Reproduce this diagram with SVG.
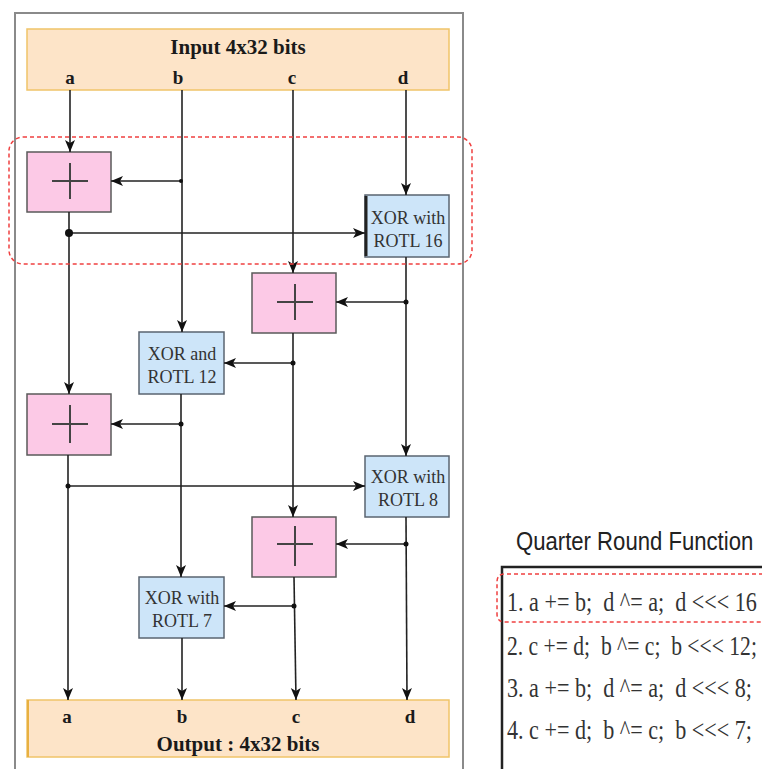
<svg xmlns="http://www.w3.org/2000/svg" width="762" height="769" viewBox="0 0 762 769">
<style>
.frame{fill:#fff;stroke:#8a8a8a;stroke-width:2}
.io{fill:#fde4c8;stroke:#f0c468;stroke-width:1.5}
.add{fill:#fcc9e6;stroke:#5a5a5a;stroke-width:1.5}
.xor{fill:#cde5f9;stroke:#5a6470;stroke-width:1.5}
.plus{stroke:#444;stroke-width:2;fill:none}
.ln{stroke:#222;stroke-width:1.6;fill:none}
.dot{fill:#111}
.hd{font-family:"Liberation Serif",serif;font-weight:bold;font-size:21px;fill:#1a1a1a;text-anchor:middle}
.ab{font-family:"Liberation Serif",serif;font-weight:bold;font-size:19px;fill:#1a1a1a;text-anchor:middle}
.lb{font-family:"Liberation Serif",serif;font-size:18px;fill:#333;text-anchor:middle}
.qt{font-family:"Liberation Sans",sans-serif;font-size:25px;fill:#222}
.row{font-family:"Liberation Serif",serif;font-size:27px;fill:#333;white-space:pre}
.red{fill:none;stroke:#f04040;stroke-width:1.5;stroke-dasharray:4 3}
</style>
<defs>
<marker id="ah" markerUnits="userSpaceOnUse" markerWidth="12" markerHeight="12" viewBox="0 0 12 12" refX="12" refY="6" orient="auto">
<path d="M0,1 L12,6 L0,11 L3,6 Z" fill="#111"/>
</marker>
</defs>
<rect x="0" y="0" width="762" height="769" fill="#fff"/>
<rect class="frame" x="15" y="13" width="448" height="770"/>

<g id="input">
<rect class="io" x="27" y="29" width="422" height="61"/>
<text class="hd" x="238" y="54">Input 4x32 bits</text>
<text class="ab" x="70" y="84">a</text>
<text class="ab" x="178" y="84">b</text>
<text class="ab" x="292" y="84">c</text>
<text class="ab" x="403" y="84">d</text>
</g>

<g id="add1">
<rect class="add" x="27" y="152" width="84" height="60"/>
<path class="plus" d="M52,181 H88 M70,163 V199"/>
</g>
<g id="xor16">
<rect class="xor" x="365" y="195" width="84" height="62"/>
<line x1="366" y1="196" x2="366" y2="256" stroke="#222" stroke-width="3"/>
<text class="lb" x="408" y="224">XOR with</text>
<text class="lb" x="408" y="247">ROTL 16</text>
</g>
<g id="add2">
<rect class="add" x="252" y="273" width="84" height="60"/>
<path class="plus" d="M277,302 H313 M295,284 V320"/>
</g>
<g id="xor12">
<rect class="xor" x="139" y="332" width="85" height="62"/>
<text class="lb" x="182" y="360">XOR and</text>
<text class="lb" x="182" y="383">ROTL 12</text>
</g>
<g id="add3">
<rect class="add" x="27" y="394" width="84" height="61"/>
<path class="plus" d="M52,424 H88 M70,405 V443"/>
</g>
<g id="xor8">
<rect class="xor" x="365" y="456" width="84" height="61"/>
<text class="lb" x="408" y="483">XOR with</text>
<text class="lb" x="408" y="506">ROTL 8</text>
</g>
<g id="add4">
<rect class="add" x="252" y="517" width="84" height="60"/>
<path class="plus" d="M277,544 H313 M295,526 V566"/>
</g>
<g id="xor7">
<rect class="xor" x="139" y="577" width="85" height="61"/>
<text class="lb" x="182" y="604">XOR with</text>
<text class="lb" x="182" y="627">ROTL 7</text>
</g>

<g id="output">
<rect class="io" x="27" y="700" width="422" height="57"/>
<line x1="28" y1="700" x2="28" y2="757" stroke="#e8b040" stroke-width="2"/>
<text class="ab" x="67" y="723">a</text>
<text class="ab" x="182" y="723">b</text>
<text class="ab" x="296" y="723">c</text>
<text class="ab" x="410" y="723">d</text>
<text class="hd" x="238" y="751">Output : 4x32 bits</text>
</g>

<g id="connectors">
<line class="ln" x1="70" y1="90" x2="70" y2="152" marker-end="url(#ah)"/>
<line class="ln" x1="182" y1="90" x2="182" y2="332" marker-end="url(#ah)"/>
<line class="ln" x1="293" y1="90" x2="293" y2="273" marker-end="url(#ah)"/>
<line class="ln" x1="406" y1="90" x2="406" y2="195" marker-end="url(#ah)"/>
<line class="ln" x1="181" y1="181" x2="111" y2="181" marker-end="url(#ah)"/>
<circle class="dot" cx="181" cy="181" r="2"/>
<line class="ln" x1="69" y1="212" x2="69" y2="394" marker-end="url(#ah)"/>
<line class="ln" x1="69" y1="233" x2="365" y2="233" stroke-width="2.5" marker-end="url(#ah)"/>
<circle class="dot" cx="69" cy="233" r="4"/>
<line class="ln" x1="406" y1="257" x2="406" y2="456" marker-end="url(#ah)"/>
<line class="ln" x1="406" y1="302" x2="336" y2="302" stroke-width="2" marker-end="url(#ah)"/>
<circle class="dot" cx="406" cy="302" r="2.5"/>
<line class="ln" x1="293" y1="333" x2="293" y2="517" marker-end="url(#ah)"/>
<line class="ln" x1="293" y1="363" x2="224" y2="363" marker-end="url(#ah)"/>
<circle class="dot" cx="293" cy="363" r="2.5"/>
<line class="ln" x1="181" y1="394" x2="181" y2="577" marker-end="url(#ah)"/>
<line class="ln" x1="181" y1="424" x2="111" y2="424" stroke="#777" stroke-width="2" marker-end="url(#ah)"/>
<circle class="dot" cx="181" cy="424" r="2.5"/>
<line class="ln" x1="68" y1="455" x2="68" y2="700" marker-end="url(#ah)"/>
<line class="ln" x1="68" y1="486" x2="365" y2="486" marker-end="url(#ah)"/>
<circle class="dot" cx="68" cy="486" r="2.5"/>
<line class="ln" x1="406" y1="517" x2="407" y2="700" marker-end="url(#ah)"/>
<line class="ln" x1="406" y1="544" x2="336" y2="544" stroke="#777" marker-end="url(#ah)"/>
<circle class="dot" cx="406" cy="544" r="2.5"/>
<line class="ln" x1="294" y1="577" x2="296" y2="700" marker-end="url(#ah)"/>
<line class="ln" x1="294" y1="606" x2="224" y2="606" marker-end="url(#ah)"/>
<circle class="dot" cx="294" cy="606" r="2.5"/>
<line class="ln" x1="182" y1="638" x2="182" y2="700" marker-end="url(#ah)"/>
</g>

<rect class="red" x="9" y="137" width="463" height="127" rx="14"/>

<g id="quarter-round">
<text class="qt" transform="translate(516,550) scale(0.885,1)">Quarter Round Function</text>
<path d="M502,769 V567 H762" fill="none" stroke="#222" stroke-width="2.5"/>
<text class="row" transform="translate(507,611) scale(0.82,1)">1. a += b;  d ^= a;  d &lt;&lt;&lt; 16</text>
<text class="row" transform="translate(507,655) scale(0.8,1)">2. c += d;  b ^= c;  b &lt;&lt;&lt; 12;</text>
<text class="row" transform="translate(507,697) scale(0.82,1)">3. a += b;  d ^= a;  d &lt;&lt;&lt; 8;</text>
<text class="row" transform="translate(507,739) scale(0.82,1)">4. c += d;  b ^= c;  b &lt;&lt;&lt; 7;</text>
<path class="red" d="M770,574 H505 Q497,574 497,582 V614 Q497,622 505,622 H770"/>
</g>
</svg>
